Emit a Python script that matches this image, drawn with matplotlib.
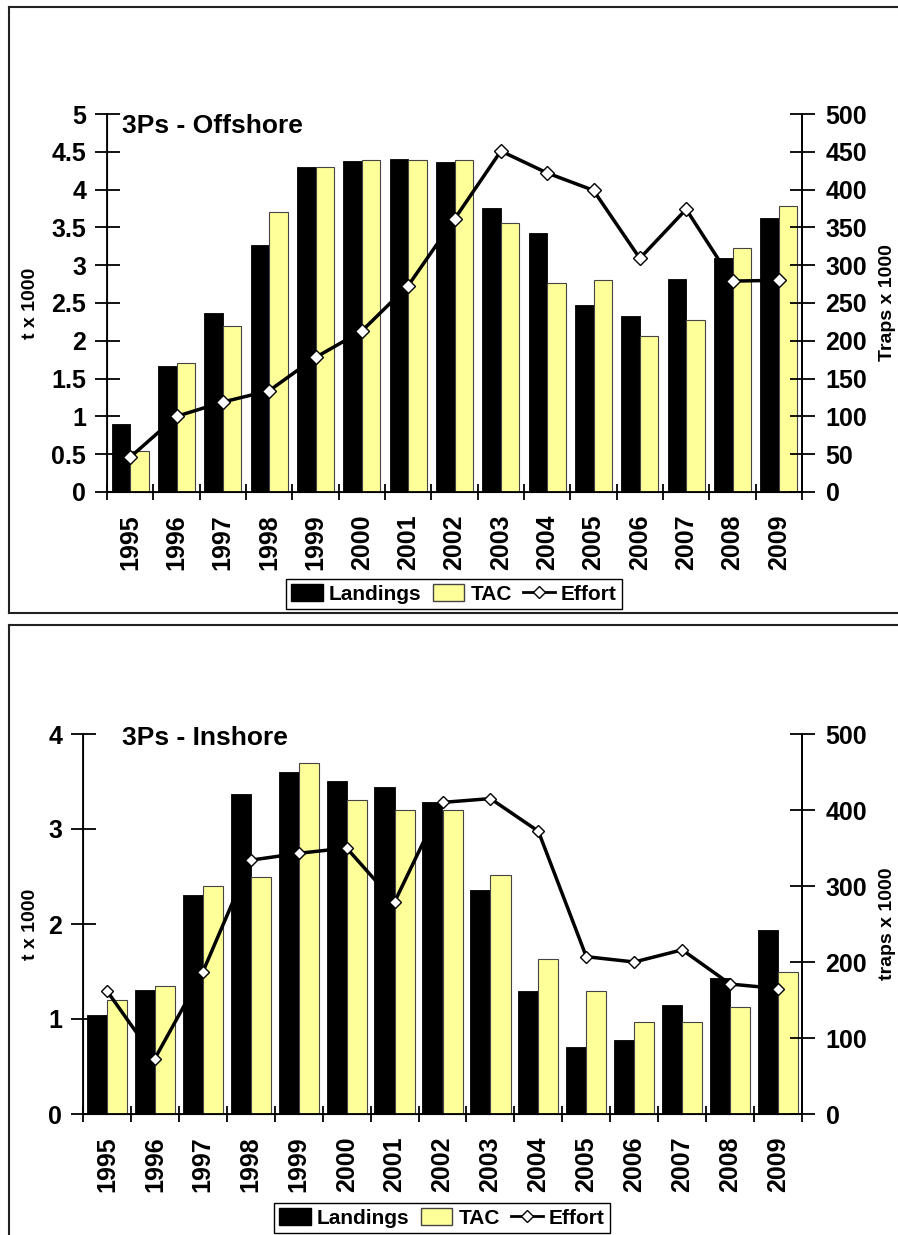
import numpy as np
import matplotlib
matplotlib.use("Agg")
import matplotlib.pyplot as plt
from matplotlib.patches import Patch
from matplotlib.lines import Line2D

years = [str(y) for y in range(1995, 2010)]

off_landings = [0.90, 1.67, 2.37, 3.27, 4.30, 4.38, 4.41, 4.36, 3.75, 3.42, 2.48, 2.33, 2.82, 3.10, 3.62]
off_tac = [0.54, 1.70, 2.20, 3.70, 4.30, 4.39, 4.39, 4.39, 3.56, 2.77, 2.81, 2.07, 2.28, 3.23, 3.78]
off_effort = [46, 100, 119, 134, 178, 213, 273, 361, 451, 422, 399, 309, 374, 279, 280]

in_landings = [1.04, 1.31, 2.31, 3.37, 3.60, 3.51, 3.44, 3.28, 2.36, 1.30, 0.71, 0.78, 1.15, 1.43, 1.94]
in_tac = [1.20, 1.35, 2.40, 2.50, 3.70, 3.31, 3.20, 3.20, 2.52, 1.63, 1.30, 0.97, 0.97, 1.13, 1.50]
in_effort = [162, 73, 187, 334, 343, 350, 279, 410, 415, 372, 207, 200, 216, 171, 165]

W, H = 898, 1235
plt.rcParams['font.family'] = ['Liberation Sans', 'DejaVu Sans']
plt.rcParams['font.weight'] = 'bold'
fig = plt.figure(figsize=(W / 100, H / 100), dpi=100)

YEL = '#FFFF99'


def fx(x):
    return x / W


def fy(y):
    return 1 - y / H


def panel(left, right, top, bottom, landings, tac, effort, ylim, yticks, rticks,
          title, title_xy, llabel, rlabel, bw, msize, legend_xy):
    ax = fig.add_axes([fx(left), fy(bottom), fx(right) - fx(left), fy(top) - fy(bottom)])
    x = np.arange(len(years))
    ax.bar(x - bw / 2, landings, width=bw, color='black', edgecolor='black', linewidth=0.6)
    ax.bar(x + bw / 2, tac, width=bw, color=YEL, edgecolor='#444444', linewidth=0.8)
    ax.set_xlim(-0.5, len(years) - 0.5)
    ax.set_ylim(*ylim)
    ax.set_yticks(yticks)
    ax.set_yticklabels([f"{v:g}" for v in yticks])
    ax.set_xticks(x)
    ax.set_xticklabels(years, rotation=90, fontsize=18, fontweight='bold')
    ax.set_xticks(np.arange(-0.5, len(years), 1.0), minor=True)
    ax.tick_params(axis='x', which='major', length=0, pad=16)
    ax.tick_params(axis='x', which='minor', direction='inout', length=11, width=1.3)
    ax.tick_params(axis='y', direction='inout', length=18, width=1.3, pad=6, labelsize=18)
    ax.spines['top'].set_visible(False)
    for s in ['left', 'bottom', 'right']:
        ax.spines[s].set_linewidth(1.3)
    ax2 = ax.twinx()
    ax2.plot(x, effort, color='black', linewidth=2.5, marker='D', markersize=msize,
             markerfacecolor='white', markeredgecolor='black', markeredgewidth=1.0, zorder=5)
    ax2.set_ylim(0, 500)
    ax2.set_yticks(rticks)
    ax2.tick_params(axis='y', direction='inout', length=18, width=1.3, pad=8, labelsize=18)
    ax2.spines['top'].set_visible(False)
    ax2.spines['right'].set_linewidth(1.3)
    for lab in ax.get_yticklabels() + ax2.get_yticklabels():
        lab.set_fontweight('bold')
    fig.text(fx(title_xy[0]), fy(title_xy[1]), title, fontsize=19, fontweight='bold',
             va='center', ha='left')
    fig.text(fx(31), fy((top + bottom) / 2), llabel, rotation=90, fontsize=14,
             fontweight='bold', ha='center', va='center')
    fig.text(fx(887), fy((top + bottom) / 2), rlabel, rotation=90, fontsize=14,
             fontweight='bold', ha='center', va='center')
    handles = [Patch(facecolor='black', edgecolor='black'),
               Patch(facecolor=YEL, edgecolor='#444444'),
               Line2D([], [], color='black', linewidth=2, marker='D', markersize=6,
                      markerfacecolor='white', markeredgecolor='black')]
    fig.legend(handles, ['Landings', 'TAC', 'Effort'], loc='center',
               bbox_to_anchor=(fx(legend_xy[0]), fy(legend_xy[1])), ncol=3,
               frameon=True, fancybox=False, edgecolor='black', framealpha=1,
               prop={'size': 15, 'weight': 'bold'}, handlelength=1.5, handletextpad=0.3,
               columnspacing=0.55, borderpad=0.25, handleheight=0.9, borderaxespad=0)
    return ax, ax2


panel(107, 802, 114, 492, off_landings, off_tac, off_effort, (0, 5),
      np.arange(0, 5.01, 0.5), np.arange(0, 501, 50), '3Ps - Offshore', (122, 126),
      't x 1000', 'Traps x 1000', 0.4, 7, (454, 594))
panel(83, 802, 734, 1114, in_landings, in_tac, in_effort, (0, 4),
      np.arange(0, 4.01, 1), np.arange(0, 501, 100), '3Ps - Inshore', (122, 738),
      't x 1000', 'traps x 1000', 0.42, 6, (442, 1218))

# panel frames
lw = 1.5
for (x0, y0, x1, y1) in [(9, 7, 898, 7), (9, 7, 9, 613), (9, 613, 898, 613),
                         (9, 625, 898, 625), (9, 625, 9, 1235)]:
    fig.add_artist(Line2D([fx(x0), fx(x1)], [fy(y0), fy(y1)], color='#222222', linewidth=lw,
                          transform=fig.transFigure))

fig.savefig('out.png', dpi=100, facecolor='white')
